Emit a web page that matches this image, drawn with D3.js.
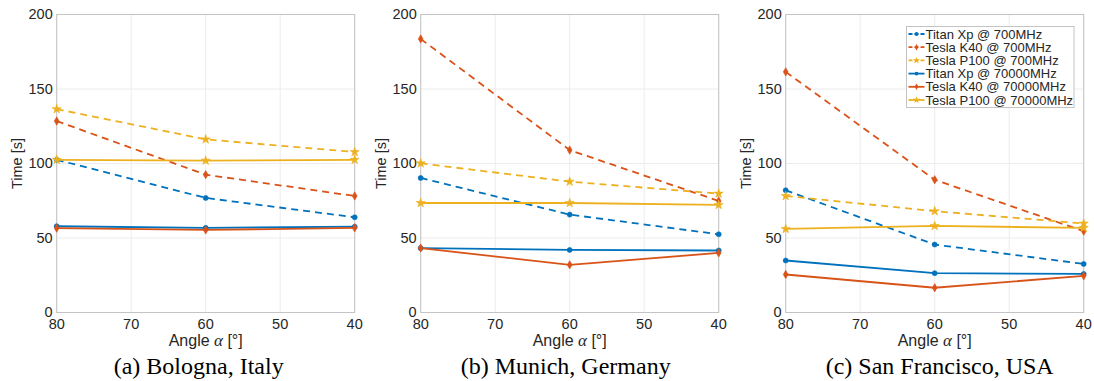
<!DOCTYPE html>
<html>
<head>
<meta charset="utf-8">
<script src="https://cdn.jsdelivr.net/npm/d3@7"></script>
<style>
  body { margin: 0; background: #fff; }
  svg { display: block; }
</style>
</head>
<body>
<svg id="chart" width="1094" height="381"></svg>
<script>
// angles on the x axis (reversed: 80 on the left)
var angles = [80, 60, 40];
var xTicks = [80, 70, 60, 50, 40];
var yTicks = [0, 50, 100, 150, 200];

var seriesNames = ["Titan Xp @ 700MHz", "Tesla K40 @ 700MHz", "Tesla P100 @ 700MHz",
                   "Titan Xp @ 70000MHz", "Tesla K40 @ 70000MHz", "Tesla P100 @ 70000MHz"];

// time [s] per series, in seriesNames order, at angles 80,60,40
var bologna = [
  [102.5, 76.9, 63.9],
  [128.5, 92.5, 78.2],
  [136.5, 116.2, 107.7],
  [57.9, 56.8, 57.6],
  [56.6, 55.4, 56.8],
  [102.5, 101.9, 102.5]
];
var munich = [
  [90.3, 65.7, 52.5],
  [183.6, 109.0, 74.9],
  [100.1, 87.8, 79.8],
  [43.2, 42.0, 41.6],
  [43.2, 32.0, 40.0],
  [73.5, 73.5, 72.2]
];
var sanFrancisco = [
  [82.0, 45.6, 32.6],
  [161.5, 89.1, 54.6],
  [78.2, 68.0, 59.7],
  [34.9, 26.4, 25.9],
  [25.5, 16.6, 24.6],
  [56.1, 58.1, 56.8]
];
var captions = ["(a) Bologna, Italy", "(b) Munich, Germany", "(c) San Francisco, USA"];

// style per series
var colors = ["#0072BD", "#D95319", "#EDB120", "#0072BD", "#D95319", "#EDB120"];
var dashed = [true, true, true, false, false, false];
var shapes = [d3.symbolCircle, d3.symbolDiamond, d3.symbolStar,
              d3.symbolCircle, d3.symbolDiamond, d3.symbolStar];
var shapeSize = [20, 20, 26, 20, 20, 26];

var svg = d3.select("#chart");
var sans = "'Liberation Sans', Arial, Helvetica, sans-serif";
var plotW = 298, plotH = 298, plotTop = 14.5;
var panelLeft = [56.7, 420.7, 785.7];
var captionShift = [-7, -4, 5]; // captions are not exactly centred on the plots

function drawPanel(i, data) {
  var left = panelLeft[i];
  var g = svg.append("g").attr("transform", "translate(" + left + "," + plotTop + ")");
  var x = d3.scaleLinear().domain([80, 40]).range([0, plotW]);
  var y = d3.scaleLinear().domain([0, 200]).range([plotH, 0]);

  // grid
  g.selectAll(".gx").data(xTicks).enter().append("line")
    .attr("x1", function(d){return x(d);}).attr("x2", function(d){return x(d);})
    .attr("y1", 0).attr("y2", plotH)
    .attr("stroke", "#ececec").attr("stroke-width", 1);
  g.selectAll(".gy").data(yTicks).enter().append("line")
    .attr("y1", function(d){return y(d);}).attr("y2", function(d){return y(d);})
    .attr("x1", 0).attr("x2", plotW)
    .attr("stroke", "#ececec").attr("stroke-width", 1);

  // axes box
  g.append("rect").attr("x", 0).attr("y", 0).attr("width", plotW).attr("height", plotH)
    .attr("fill", "none").attr("stroke", "#c4c4c4").attr("stroke-width", 1);

  // tick labels
  g.selectAll(".xt").data(xTicks).enter().append("text")
    .attr("x", function(d){return x(d);}).attr("y", plotH + 16.5)
    .attr("text-anchor", "middle").attr("fill", "#262626")
    .style("font-family", sans).style("font-size", "14.5px")
    .text(function(d){return d;});
  g.selectAll(".yt").data(yTicks).enter().append("text")
    .attr("x", -4).attr("y", function(d){return y(d);}).attr("dy", "0.33em")
    .attr("text-anchor", "end").attr("fill", "#262626")
    .style("font-family", sans).style("font-size", "14.5px")
    .text(function(d){return d;});

  // axis titles
  var xl = g.append("text").attr("x", plotW / 2).attr("y", plotH + 33)
    .attr("text-anchor", "middle").attr("fill", "#262626")
    .style("font-family", sans).style("font-size", "16px");
  xl.append("tspan").text("Angle ");
  xl.append("tspan").text("\u03b1").style("font-family", "'Liberation Serif', serif")
    .style("font-style", "italic").style("font-size", "17px");
  xl.append("tspan").text(" [\u00b0]");
  g.append("text").attr("transform", "translate(-35," + (plotH / 2) + ") rotate(-90)")
    .attr("text-anchor", "middle").attr("fill", "#262626")
    .style("font-family", sans).style("font-size", "14.5px").text("Time [s]");

  // caption
  svg.append("text").attr("x", left + plotW / 2 + captionShift[i]).attr("y", 374)
    .attr("text-anchor", "middle").attr("fill", "#000")
    .style("font-family", "'Liberation Serif', 'Times New Roman', serif")
    .style("font-size", "24px").text(captions[i]);

  // series
  var line = d3.line().x(function(d){return x(d[0]);}).y(function(d){return y(d[1]);});
  data.forEach(function(vals, s) {
    var pts = angles.map(function(a, k){return [a, vals[k]];});
    g.append("path").attr("d", line(pts)).attr("fill", "none")
      .attr("stroke", colors[s]).attr("stroke-width", 1.8)
      .attr("stroke-dasharray", dashed[s] ? "7,5" : null);
    g.selectAll(".m" + s).data(pts).enter().append("path")
      .attr("transform", function(d){return "translate(" + x(d[0]) + "," + y(d[1]) + ")";})
      .attr("d", d3.symbol().type(shapes[s]).size(shapeSize[s]))
      .attr("fill", colors[s]).attr("stroke", colors[s]).attr("stroke-width", 0.6);
  });
  return g;
}

drawPanel(0, bologna);
drawPanel(1, munich);
drawPanel(2, sanFrancisco);

// legend in the last panel
var lg = svg.append("g").attr("transform", "translate(906.5,26.5)");
lg.append("rect").attr("width", 167.5).attr("height", 81)
  .attr("fill", "#fff").attr("stroke", "#c4c4c4").attr("stroke-width", 1);
seriesNames.forEach(function(name, s) {
  var cy = 7.5 + s * 13.2;
  lg.append("line").attr("x1", 2).attr("x2", 18).attr("y1", cy).attr("y2", cy)
    .attr("stroke", colors[s]).attr("stroke-width", 1.8)
    .attr("stroke-dasharray", dashed[s] ? "4,2" : null);
  lg.append("path").attr("transform", "translate(10," + cy + ")")
    .attr("d", d3.symbol().type(shapes[s]).size(shapeSize[s] * 0.6))
    .attr("fill", colors[s]);
  lg.append("text").attr("x", 19).attr("y", cy).attr("dy", "0.36em")
    .attr("fill", "#262626").style("font-family", sans).style("font-size", "13px")
    .text(name);
});
</script>
</body>
</html>
